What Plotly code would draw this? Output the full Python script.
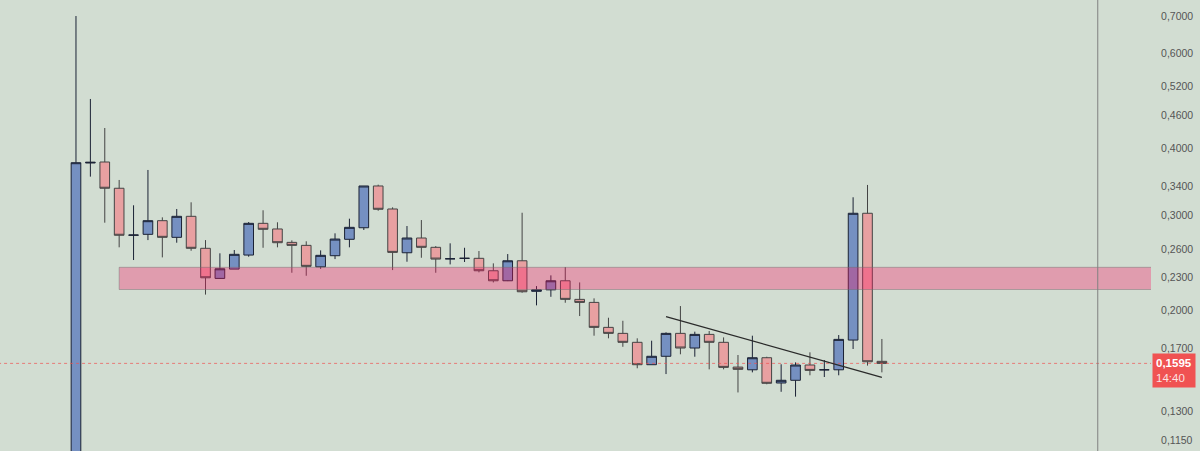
import math
import plotly.graph_objects as go

# ---- data ----
candle_idx = list(range(57))
opens = [0.105, 0.3750, 0.3766, 0.3367, 0.2755, 0.2766, 0.2932, 0.2731, 0.2987, 0.2606,
         0.2292, 0.2385, 0.2532, 0.2899, 0.2830, 0.2673, 0.2639, 0.2408, 0.2525, 0.2708,
         0.2845, 0.3400, 0.3082, 0.2557, 0.2723, 0.2617, 0.2492, 0.2497, 0.2497, 0.2368,
         0.2269, 0.2471, 0.2169, 0.2183, 0.2269, 0.2096, 0.2069, 0.1860, 0.1813, 0.1745,
         0.1586, 0.1644, 0.1813, 0.1703, 0.1805, 0.1745, 0.1570, 0.1552, 0.1634, 0.1467,
         0.1484, 0.1584, 0.1552, 0.1552, 0.1762, 0.3026, 0.1609]
highs = [0.702, 0.4928, 0.4354, 0.3488, 0.3131, 0.3640, 0.2974, 0.3082, 0.3171, 0.2699,
         0.2551, 0.2587, 0.2915, 0.3065, 0.2912, 0.2696, 0.2685, 0.2583, 0.2778, 0.2957,
         0.3400, 0.3419, 0.3104, 0.2866, 0.2940, 0.2631, 0.2662, 0.2612, 0.2576, 0.2444,
         0.2543, 0.3033, 0.2218, 0.2322, 0.2405, 0.2253, 0.2105, 0.1938, 0.1913, 0.1775,
         0.1757, 0.1821, 0.2037, 0.1826, 0.1831, 0.1782, 0.1653, 0.1795, 0.1641, 0.1589,
         0.1602, 0.1672, 0.1618, 0.1800, 0.3240, 0.3415, 0.1770]
lows = [0.100, 0.3538, 0.2907, 0.2617, 0.2479, 0.2699, 0.2507, 0.2669, 0.2579, 0.2139,
        0.2290, 0.2385, 0.2514, 0.2612, 0.2617, 0.2348, 0.2318, 0.2388, 0.2489, 0.2617,
        0.2818, 0.3059, 0.2375, 0.2461, 0.2503, 0.2348, 0.2433, 0.2458, 0.2352, 0.2253,
        0.2266, 0.2156, 0.2043, 0.2119, 0.2066, 0.1952, 0.1795, 0.1775, 0.1712, 0.1562,
        0.1586, 0.1524, 0.1658, 0.1641, 0.1555, 0.1555, 0.1409, 0.1535, 0.1459, 0.1413,
        0.1384, 0.1516, 0.1505, 0.1516, 0.1696, 0.1580, 0.1535]
closes = [0.3755, 0.3761, 0.3367, 0.2755, 0.2758, 0.2932, 0.2731, 0.2987, 0.2606, 0.2298,
          0.2388, 0.2540, 0.2899, 0.2826, 0.2669, 0.2639, 0.2413, 0.2529, 0.2711, 0.2850,
          0.3400, 0.3078, 0.2561, 0.2723, 0.2617, 0.2489, 0.2492, 0.2497, 0.2368, 0.2269,
          0.2471, 0.2165, 0.2183, 0.2269, 0.2096, 0.2069, 0.1860, 0.1813, 0.1745, 0.1586,
          0.1644, 0.1813, 0.1703, 0.1805, 0.1745, 0.1568, 0.1555, 0.1634, 0.1465, 0.1484,
          0.1584, 0.1548, 0.1552, 0.1767, 0.3026, 0.1606, 0.1595]

zone_x = [3, 90]
zone_price = [0.2186, 0.2403]
trend_x = [41, 56]
trend_price = [0.1947, 0.1503]
vline_x = 71
last_price = 0.1595
countdown = "14:40"
tick_vals = [0.115, 0.13, 0.17, 0.20, 0.23, 0.26, 0.30, 0.34, 0.40, 0.46, 0.52, 0.60, 0.70]
tick_text = [f"{v:.4f}".replace(".", ",") for v in tick_vals]

BG = "#d2ddd2"
FONT = "Liberation Sans, Arial, sans-serif"

fig = go.Figure()

# support / resistance zone
fig.add_trace(go.Scatter(
    x=[zone_x[0], zone_x[1], zone_x[1], zone_x[0], zone_x[0]],
    y=[zone_price[1], zone_price[1], zone_price[0], zone_price[0], zone_price[1]],
    mode="lines", fill="toself", fillcolor="rgba(255,20,100,0.32)",
    line=dict(color="rgba(110,110,110,0.45)", width=1),
    hoverinfo="skip", showlegend=False))

# last price dotted line
fig.add_trace(go.Scatter(
    x=[-10, 80], y=[last_price, last_price], mode="lines",
    line=dict(color="rgba(240,80,80,0.7)", width=1, dash="dot"),
    hoverinfo="skip", showlegend=False))

fig.add_trace(go.Candlestick(
    x=candle_idx, open=opens, high=highs, low=lows, close=closes,
    increasing=dict(fillcolor="rgba(24,67,176,0.5)", line=dict(color="#1b2235", width=1)),
    decreasing=dict(fillcolor="rgba(254,99,112,0.5)", line=dict(color="#444444", width=1)),
    whiskerwidth=0, showlegend=False))

# trend line
fig.add_trace(go.Scatter(
    x=trend_x, y=trend_price, mode="lines",
    line=dict(color="#2a2a2a", width=1.3),
    hoverinfo="skip", showlegend=False))

fig.add_vline(x=vline_x, line_color="#808080", line_width=1)

fig.add_annotation(
    x=1, xref="paper", xanchor="left", xshift=1,
    y=math.log10(last_price), yref="y", yanchor="middle", yshift=-7,
    text=f"<b>{str(last_price).replace('.', ',')}</b><br><span style='color:rgba(255,255,255,0.85)'>{countdown}</span>",
    showarrow=False, align="left", bgcolor="#f05252", borderpad=3,
    font=dict(family=FONT, size=11.5, color="white"))

fig.update_layout(
    width=1200, height=451,
    margin=dict(l=0, r=49, t=0, b=0),
    paper_bgcolor=BG, plot_bgcolor=BG,
    boxgap=0.33, boxgroupgap=0,
    font=dict(family=FONT, size=11, color="#4d4d4d"),
    xaxis=dict(range=[-5.28, 74.70], showgrid=False, zeroline=False,
               showticklabels=False, rangeslider=dict(visible=False), fixedrange=True),
    yaxis=dict(type="log", side="right", range=[-0.95957, -0.12396],
               tickvals=tick_vals, ticktext=tick_text, showgrid=False, zeroline=False,
               ticks="outside", ticklen=7, tickcolor="rgba(0,0,0,0)",
               tickfont=dict(family=FONT, size=10.5, color="#555555")),
)

fig.write_html("out.html")
